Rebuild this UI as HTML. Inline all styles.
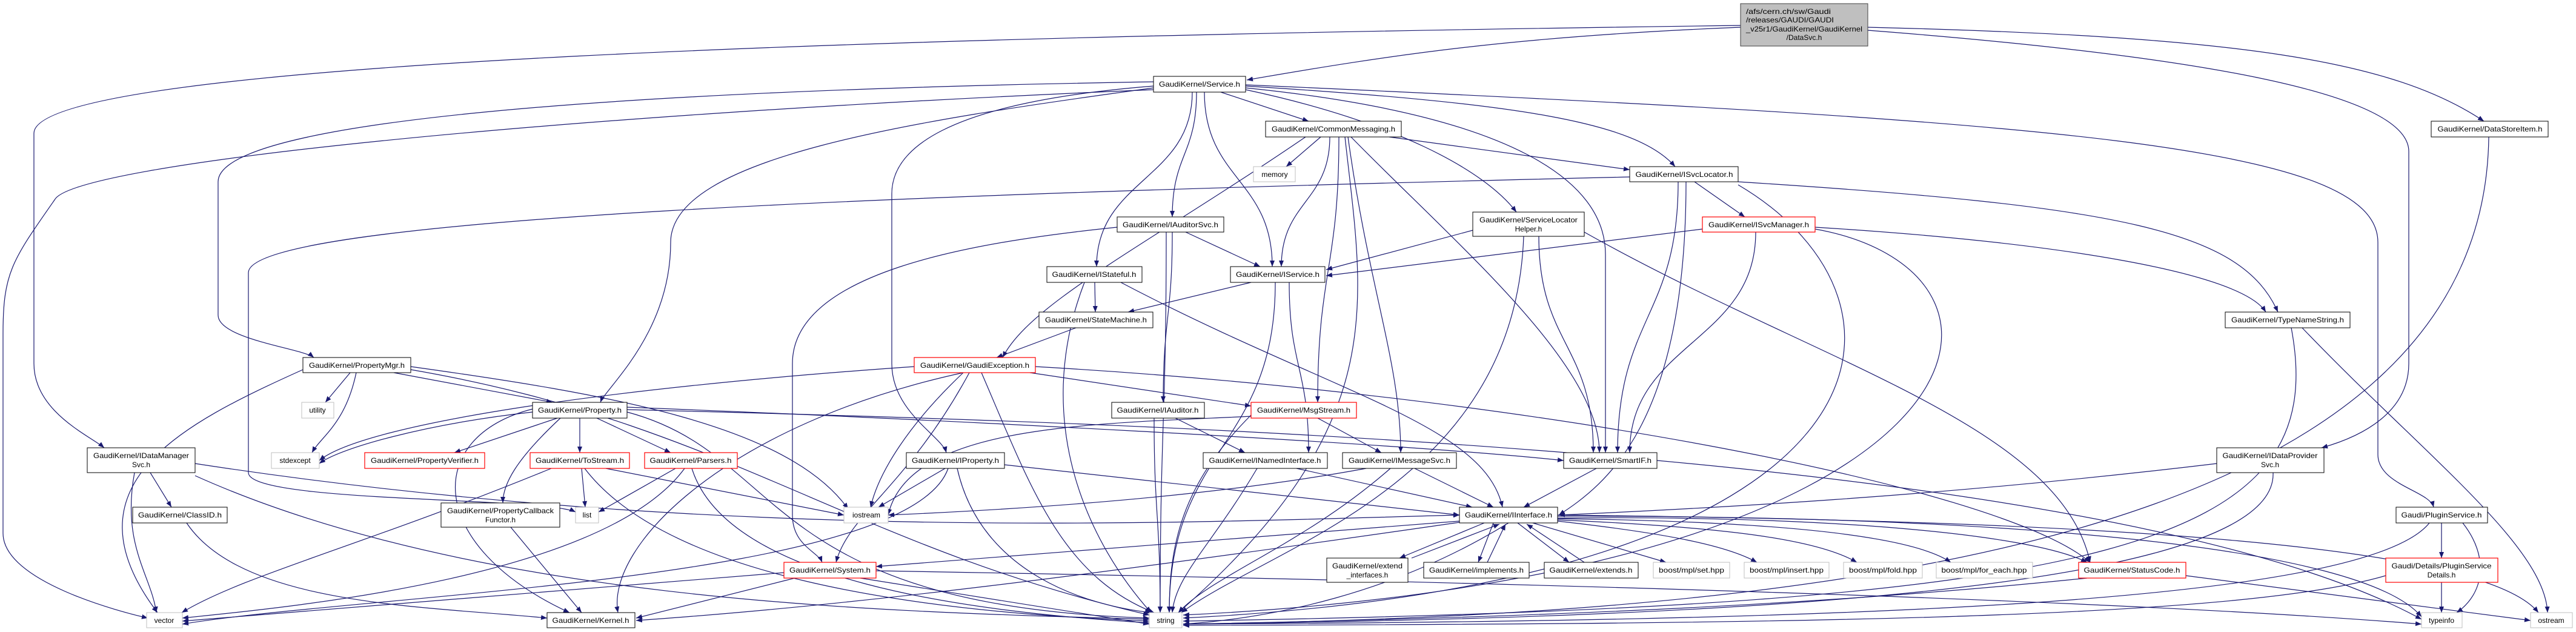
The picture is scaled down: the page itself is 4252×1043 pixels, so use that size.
<!DOCTYPE html>
<html><head><meta charset="utf-8"><style>
html,body{margin:0;padding:0;background:#fff;}
svg{display:block;}
text{font-family:"Liberation Sans",Arial,sans-serif;font-size:12px;fill:#000;}
.e{fill:none;stroke:#191970;stroke-width:1.2;marker-end:url(#a);}
.n{fill:#fff;stroke:#000;stroke-width:1;}
.g{fill:#fff;stroke:#bfbfbf;stroke-width:1;}
.r{fill:#fff;stroke:#ff0000;stroke-width:1.2;}
.sh{stroke:#404040;stroke-width:2;}
</style></head><body>
<svg width="4252" height="1043" viewBox="0 0 4252 1043" xmlns="http://www.w3.org/2000/svg">
<defs><marker id="a" markerUnits="userSpaceOnUse" markerWidth="10" markerHeight="8" refX="10" refY="4" orient="auto"><path d="M0,0 L10,4 L0,8 z" fill="#191970"/></marker></defs>
<g>
<!-- root edges -->
<path class="e" d="M2873,45 C2500,60 2300,90 2058,132"/>
<path class="e" d="M3083,45 C3700,60 3950,100 4100,200"/>
<path class="e" d="M3083,50 C3600,90 3976,150 3976,250 L3976,600 C3976,680 3900,720 3832,739"/>
<path class="e" d="M2873,42 C1500,60 56,100 56,220 L56,600 C56,680 150,720 172,739"/>
<!-- Service edges -->
<path class="e" d="M2015,152 L2160,200"/>
<path class="e" d="M1975,152 C1975,255 1935,255 1935,358"/>
<path class="e" d="M1968,152 C1968,296 1810,296 1810,440"/>
<path class="e" d="M1988,152 C1988,296 2100,296 2100,440"/>
<path class="e" d="M2056,148 C2300,200 2450,280 2503,350"/>
<path class="e" d="M2056,142 C2500,170 2700,200 2765,275"/>
<path class="e" d="M2056,145 C2500,190 2650,300 2650,420 L2650,747"/>
<path class="e" d="M2056,140 C3400,200 3925,240 3925,400 L3925,750 C3925,800 4010,810 4017,837"/>
<path class="e" d="M1904,135 C1000,150 360,200 360,300 L360,520 C360,560 500,575 518,590"/>
<path class="e" d="M1904,145 C1500,200 1107,260 1107,400 C1107,550 1000,640 991,664"/>
<path class="e" d="M1904,142 C1550,170 1472,250 1472,320 L1472,600 C1472,680 1555,720 1562,747"/>
<path class="e" d="M1904,148 C900,190 120,270 90,330 C20,430 5,450 5,550 L5,880 C5,960 200,1010 244,1020"/>
<!-- CommonMessaging -->
<path class="e" d="M2180,226 L2123,275"/>
<path class="e" d="M2293,226 L2690,280"/>
<path class="e" d="M2195,226 C2195,333 2115,333 2115,440"/>
<path class="e" d="M2155,226 C1900,400 1700,500 1655,590"/>
<path class="e" d="M2210,226 C2210,445 2175,445 2175,664"/>
<path class="e" d="M2225,226 C2260,480 2312,600 2312,747"/>
<path class="e" d="M2230,226 C2400,400 2640,600 2640,747"/>
<path class="e" d="M2220,226 C2250,500 2300,700 1945,1011"/>
<!-- IAuditorSvc -->
<path class="e" d="M1957,383 L2080,440"/>
<path class="e" d="M1935,383 C1935,523 1920,523 1920,664"/>
<path class="e" d="M1844,375 C1600,400 1308,450 1308,600 L1308,850 C1308,900 1350,910 1357,928"/>
<path class="e" d="M1925,383 C1925,700 1915,700 1915,1011"/>
<!-- IStateful -->
<path class="e" d="M1807,466 L1808,515"/>
<path class="e" d="M1850,466 C2200,650 2450,700 2480,837"/>
<path class="e" d="M1790,466 C1700,700 1800,900 1900,1011"/>
<!-- IService -->
<path class="e" d="M2065,466 L1862,515"/>
<path class="e" d="M2128,466 C2128,606 2160,606 2160,747"/>
<path class="e" d="M2105,466 C2105,738 1930,738 1930,1011"/>
<path class="e" d="M1776,541 L1645,590"/>
<!-- ServiceLocatorHelper -->
<path class="e" d="M2431,380 L2189,445"/>
<path class="e" d="M2540,390 C2540,568 2630,568 2630,747"/>
<path class="e" d="M2615,383 C3000,600 3400,700 3450,928"/>
<path class="e" d="M2515,390 C2500,800 2100,900 1950,1011"/>
<!-- ISvcLocator -->
<path class="e" d="M2797,300 L2880,358"/>
<path class="e" d="M2869,300 C3500,340 3700,380 3760,515"/>
<path class="e" d="M2770,300 C2770,523 2670,523 2670,747"/>
<path class="e" d="M2783,300 C2783,700 2650,800 2573,850"/>
<path class="e" d="M2869,305 C3200,500 3150,960 1953,1020"/>
<path class="e" d="M2690,292 C1500,320 410,360 410,450 L410,780 C410,830 900,820 950,845"/>
<!-- ISvcManager -->
<path class="e" d="M2810,378 L2189,455"/>
<path class="e" d="M2898,383 C2898,565 2690,565 2690,747"/>
<path class="e" d="M2996,375 C3400,400 3700,450 3740,515"/>
<path class="e" d="M2996,378 C3400,450 3300,950 1953,1015"/>
<path class="e" d="M3782,541 C3850,900 3500,1000 1953,1025"/>
<path class="e" d="M3800,541 C4000,750 4200,900 4205,1011"/>
<!-- PropertyMgr -->
<path class="e" d="M650,615 L912,664"/>
<path class="e" d="M578,615 L537,664"/>
<path class="e" d="M588,615 C570,700 530,720 515,747"/>
<path class="e" d="M500,610 C300,700 100,800 260,1011"/>
<path class="e" d="M678,605 C1000,650 1300,700 1400,840"/>
<path class="e" d="M678,610 C1200,700 1400,900 1897,1015"/>
<!-- GaudiException -->
<path class="e" d="M1700,615 L2065,670"/>
<path class="e" d="M1590,615 C1500,700 1450,780 1437,837"/>
<path class="e" d="M1600,615 C1500,800 1400,850 1380,928"/>
<path class="e" d="M1620,615 C1700,800 1750,950 1905,1011"/>
<path class="e" d="M1509,605 C1000,640 600,700 527,760"/>
<path class="e" d="M1709,605 C2500,650 3300,800 3450,928"/>
<path class="e" d="M1590,615 C1200,700 1000,900 1020,1011"/>
<!-- Property -->
<path class="e" d="M920,690 L750,747"/>
<path class="e" d="M957,690 L957,747"/>
<path class="e" d="M985,690 L1107,747"/>
<path class="e" d="M925,690 C850,760 830,800 830,830"/>
<path class="e" d="M879,680 C700,700 560,740 527,765"/>
<path class="e" d="M879,675 C700,720 700,900 940,1011"/>
<path class="e" d="M1035,680 C1300,750 1250,1000 1897,1020"/>
<path class="e" d="M1035,672 C1500,690 2300,730 2581,760"/>
<path class="e" d="M1035,676 C2000,700 3500,750 3997,1022"/>
<!-- IDataManagerSvc -->
<path class="e" d="M248,780 L283,837"/>
<path class="e" d="M222,780 C200,900 250,950 258,1011"/>
<path class="e" d="M322,785 C800,1000 1500,1010 1897,1022"/>
<path class="e" d="M322,765 C1200,900 2000,860 2409,850"/>
<!-- ToStream / Parsers -->
<path class="e" d="M960,773 L966,837"/>
<path class="e" d="M910,773 C600,900 400,950 300,1011"/>
<path class="e" d="M965,773 C1100,950 1500,1010 1897,1025"/>
<path class="e" d="M1000,773 L1393,850"/>
<path class="e" d="M1115,773 L988,845"/>
<path class="e" d="M1130,773 C1000,950 500,1000 301,1020"/>
<path class="e" d="M1142,773 C1200,960 1600,1010 1897,1028"/>
<path class="e" d="M308,863 C400,1000 700,1000 903,1020"/>
<path class="e" d="M843,870 L960,1011"/>
<!-- IProperty -->
<path class="e" d="M1658,767 L2409,850"/>
<path class="e" d="M1560,773 L1450,837"/>
<path class="e" d="M1580,773 C1620,950 1800,1000 1900,1011"/>
<path class="e" d="M1565,773 C1500,960 600,980 301,1030"/>
<!-- System -->
<path class="e" d="M1312,954 L1050,1020"/>
<path class="e" d="M1294,945 L301,1025"/>
<path class="e" d="M1420,954 L1897,1030"/>
<path class="e" d="M1446,942 C2500,960 3500,990 3997,1030"/>
<!-- IAuditor / MsgStream / INamed / IMessage / SmartIF -->
<path class="e" d="M1940,690 L2055,747"/>
<path class="e" d="M1905,690 C1905,850 1915,850 1915,1011"/>
<path class="e" d="M2175,690 L2280,747"/>
<path class="e" d="M2065,685 C1950,800 1930,900 1930,1011"/>
<path class="e" d="M2065,687 C1800,700 1500,700 1466,850"/>
<path class="e" d="M2140,773 L2430,837"/>
<path class="e" d="M2075,773 C2000,900 1940,950 1935,1011"/>
<path class="e" d="M2335,773 L2465,837"/>
<path class="e" d="M2255,773 C2000,820 1700,840 1466,850"/>
<path class="e" d="M2295,773 C2150,900 2000,950 1945,1011"/>
<path class="e" d="M2635,773 L2515,837"/>
<!-- IInterface -->
<path class="e" d="M2409,860 L1446,935"/>
<path class="e" d="M2409,862 C1800,950 1400,1000 1050,1024"/>
<path class="e" d="M2450,863 L2310,921"/>
<path class="e" d="M2330,921 L2475,865"/>
<path class="e" d="M2465,863 L2440,928"/>
<path class="e" d="M2455,928 L2485,865"/>
<path class="e" d="M2505,863 L2590,928"/>
<path class="e" d="M2615,928 L2520,865"/>
<path class="e" d="M2530,863 L2750,928"/>
<path class="e" d="M2571,860 C2750,880 2850,900 2900,928"/>
<path class="e" d="M2571,858 C2850,870 3000,890 3065,928"/>
<path class="e" d="M2571,856 C2900,860 3150,880 3220,928"/>
<path class="e" d="M2571,855 C3000,850 3350,880 3445,928"/>
<path class="e" d="M2490,863 C2300,980 2100,1020 1953,1030"/>
<path class="e" d="M2571,852 C3300,850 3900,900 3997,1018"/>
<path class="e" d="M2571,850 C3500,860 4100,900 4190,1011"/>
<path class="e" d="M3445,954 C3000,1000 2500,1020 1953,1030"/>
<path class="e" d="M3608,950 L4177,1024"/>
<path class="e" d="M3659,765 C3200,820 2800,840 2573,850"/>
<path class="e" d="M3752,780 C3760,980 2800,1020 1953,1030"/>
<path class="e" d="M4030,863 L4030,921"/>
<path class="e" d="M4065,863 C4110,920 4100,980 4055,1011"/>
<path class="e" d="M4010,863 C3900,1000 3000,1025 1953,1030"/>
<path class="e" d="M4030,961 L4030,1011"/>
<path class="e" d="M3938,950 C3700,1020 3000,1030 1953,1032"/>
<path class="e" d="M4108,226 C4100,900 3000,1015 1953,1030"/>
</g>
<!-- nodes -->
<g>
<rect x="2873" y="6" width="210" height="70" fill="#bfbfbf" stroke="#404040"/>
<text x="2882" y="23" textLength="140" lengthAdjust="spacingAndGlyphs">/afs/cern.ch/sw/Gaudi</text>
<text x="2882" y="37" textLength="145" lengthAdjust="spacingAndGlyphs">/releases/GAUDI/GAUDI</text>
<text x="2882" y="52" textLength="192" lengthAdjust="spacingAndGlyphs">_v25r1/GaudiKernel/GaudiKernel</text>
<text x="2978" y="66" text-anchor="middle">/DataSvc.h</text>

<rect class="n" x="1904" y="126" width="152" height="26"/><text x="1980" y="143" text-anchor="middle" textLength="134" lengthAdjust="spacingAndGlyphs">GaudiKernel/Service.h</text>
<rect class="n" x="2089" y="200" width="224" height="26"/><text x="2201" y="217" text-anchor="middle" textLength="204" lengthAdjust="spacingAndGlyphs">GaudiKernel/CommonMessaging.h</text>
<rect class="n" x="4013" y="200" width="193" height="26"/><text x="4110" y="217" text-anchor="middle" textLength="173" lengthAdjust="spacingAndGlyphs">GaudiKernel/DataStoreItem.h</text>
<rect class="g" x="2069" y="275" width="69" height="25"/><text x="2104" y="292" text-anchor="middle">memory</text>
<rect class="n" x="2690" y="275" width="179" height="25"/><text x="2780" y="292" text-anchor="middle" textLength="161" lengthAdjust="spacingAndGlyphs">GaudiKernel/ISvcLocator.h</text>
<rect class="n" x="1844" y="358" width="176" height="25"/><text x="1932" y="375" text-anchor="middle" textLength="158" lengthAdjust="spacingAndGlyphs">GaudiKernel/IAuditorSvc.h</text>
<rect class="n" x="2431" y="350" width="184" height="40"/><text x="2523" y="367" text-anchor="middle" textLength="162" lengthAdjust="spacingAndGlyphs">GaudiKernel/ServiceLocator</text><text x="2523" y="382" text-anchor="middle">Helper.h</text>
<rect class="r" x="2810" y="358" width="186" height="25"/><text x="2903" y="375" text-anchor="middle" textLength="166" lengthAdjust="spacingAndGlyphs">GaudiKernel/ISvcManager.h</text>
<rect class="n" x="1728" y="440" width="157" height="26"/><text x="1806" y="457" text-anchor="middle" textLength="139" lengthAdjust="spacingAndGlyphs">GaudiKernel/IStateful.h</text>
<rect class="n" x="2031" y="440" width="156" height="26"/><text x="2109" y="457" text-anchor="middle" textLength="138" lengthAdjust="spacingAndGlyphs">GaudiKernel/IService.h</text>
<rect class="n" x="1715" y="515" width="188" height="26"/><text x="1809" y="532" text-anchor="middle" textLength="168" lengthAdjust="spacingAndGlyphs">GaudiKernel/StateMachine.h</text>
<rect class="n" x="3673" y="515" width="206" height="26"/><text x="3776" y="532" text-anchor="middle" textLength="186" lengthAdjust="spacingAndGlyphs">GaudiKernel/TypeNameString.h</text>
<rect class="n" x="500" y="590" width="178" height="25"/><text x="589" y="607" text-anchor="middle" textLength="158" lengthAdjust="spacingAndGlyphs">GaudiKernel/PropertyMgr.h</text>
<rect class="r" x="1509" y="590" width="200" height="25"/><text x="1609" y="607" text-anchor="middle" textLength="180" lengthAdjust="spacingAndGlyphs">GaudiKernel/GaudiException.h</text>
<rect class="g" x="498" y="664" width="53" height="26"/><text x="524" y="681" text-anchor="middle">utility</text>
<rect class="n" x="879" y="664" width="156" height="26"/><text x="957" y="681" text-anchor="middle" textLength="138" lengthAdjust="spacingAndGlyphs">GaudiKernel/Property.h</text>
<rect class="n" x="1835" y="664" width="153" height="26"/><text x="1911" y="681" text-anchor="middle" textLength="135" lengthAdjust="spacingAndGlyphs">GaudiKernel/IAuditor.h</text>
<rect class="r" x="2065" y="664" width="174" height="26"/><text x="2152" y="681" text-anchor="middle" textLength="154" lengthAdjust="spacingAndGlyphs">GaudiKernel/MsgStream.h</text>
<rect class="n" x="144" y="739" width="178" height="41"/><text x="233" y="756" text-anchor="middle" textLength="158" lengthAdjust="spacingAndGlyphs">GaudiKernel/IDataManager</text><text x="233" y="771" text-anchor="middle">Svc.h</text>
<rect class="n" x="3659" y="739" width="177" height="41"/><text x="3747" y="756" text-anchor="middle" textLength="157" lengthAdjust="spacingAndGlyphs">GaudiKernel/IDataProvider</text><text x="3747" y="771" text-anchor="middle">Svc.h</text>
<rect class="g" x="448" y="747" width="79" height="26"/><text x="487" y="764" text-anchor="middle">stdexcept</text>
<rect class="r" x="602" y="747" width="198" height="26"/><text x="701" y="764" text-anchor="middle" textLength="178" lengthAdjust="spacingAndGlyphs">GaudiKernel/PropertyVerifier.h</text>
<rect class="r" x="875" y="747" width="164" height="26"/><text x="957" y="764" text-anchor="middle" textLength="146" lengthAdjust="spacingAndGlyphs">GaudiKernel/ToStream.h</text>
<rect class="r" x="1064" y="747" width="153" height="26"/><text x="1140" y="764" text-anchor="middle" textLength="135" lengthAdjust="spacingAndGlyphs">GaudiKernel/Parsers.h</text>
<rect class="n" x="1496" y="747" width="162" height="26"/><text x="1577" y="764" text-anchor="middle" textLength="144" lengthAdjust="spacingAndGlyphs">GaudiKernel/IProperty.h</text>
<rect class="n" x="1986" y="747" width="205" height="26"/><text x="2088" y="764" text-anchor="middle" textLength="185" lengthAdjust="spacingAndGlyphs">GaudiKernel/INamedInterface.h</text>
<rect class="n" x="2216" y="747" width="188" height="26"/><text x="2310" y="764" text-anchor="middle" textLength="168" lengthAdjust="spacingAndGlyphs">GaudiKernel/IMessageSvc.h</text>
<rect class="n" x="2581" y="747" width="154" height="26"/><text x="2658" y="764" text-anchor="middle" textLength="136" lengthAdjust="spacingAndGlyphs">GaudiKernel/SmartIF.h</text>
<rect class="n" x="219" y="837" width="156" height="26"/><text x="297" y="854" text-anchor="middle" textLength="138" lengthAdjust="spacingAndGlyphs">GaudiKernel/ClassID.h</text>
<rect class="n" x="728" y="830" width="196" height="40"/><text x="826" y="847" text-anchor="middle" textLength="176" lengthAdjust="spacingAndGlyphs">GaudiKernel/PropertyCallback</text><text x="826" y="862" text-anchor="middle">Functor.h</text>
<rect class="g" x="950" y="837" width="38" height="26"/><text x="969" y="854" text-anchor="middle">list</text>
<rect class="g" x="1393" y="837" width="73" height="26"/><text x="1430" y="854" text-anchor="middle">iostream</text>
<rect class="n" x="2409" y="837" width="162" height="26"/><text x="2490" y="854" text-anchor="middle" textLength="144" lengthAdjust="spacingAndGlyphs">GaudiKernel/IInterface.h</text>
<rect class="n" x="3955" y="837" width="151" height="26"/><text x="4030" y="854" text-anchor="middle" textLength="133" lengthAdjust="spacingAndGlyphs">Gaudi/PluginService.h</text>
<rect class="r" x="1294" y="928" width="152" height="26"/><text x="1370" y="945" text-anchor="middle" textLength="134" lengthAdjust="spacingAndGlyphs">GaudiKernel/System.h</text>
<rect class="n" x="2190" y="921" width="134" height="40"/><text x="2257" y="938" text-anchor="middle" textLength="116" lengthAdjust="spacingAndGlyphs">GaudiKernel/extend</text><text x="2257" y="953" text-anchor="middle">_interfaces.h</text>
<rect class="n" x="2350" y="928" width="174" height="26"/><text x="2437" y="945" text-anchor="middle" textLength="156" lengthAdjust="spacingAndGlyphs">GaudiKernel/implements.h</text>
<rect class="n" x="2549" y="928" width="155" height="26"/><text x="2626" y="945" text-anchor="middle" textLength="137" lengthAdjust="spacingAndGlyphs">GaudiKernel/extends.h</text>
<rect class="g" x="2729" y="928" width="126" height="26"/><text x="2792" y="945" text-anchor="middle" textLength="108" lengthAdjust="spacingAndGlyphs">boost/mpl/set.hpp</text>
<rect class="g" x="2879" y="928" width="140" height="26"/><text x="2949" y="945" text-anchor="middle" textLength="122" lengthAdjust="spacingAndGlyphs">boost/mpl/insert.hpp</text>
<rect class="g" x="3043" y="928" width="130" height="26"/><text x="3108" y="945" text-anchor="middle" textLength="112" lengthAdjust="spacingAndGlyphs">boost/mpl/fold.hpp</text>
<rect class="g" x="3196" y="928" width="159" height="26"/><text x="3275" y="945" text-anchor="middle" textLength="141" lengthAdjust="spacingAndGlyphs">boost/mpl/for_each.hpp</text>
<rect class="r" x="3431" y="928" width="177" height="26"/><text x="3519" y="945" text-anchor="middle" textLength="159" lengthAdjust="spacingAndGlyphs">GaudiKernel/StatusCode.h</text>
<rect class="r" x="3938" y="921" width="185" height="40"/><text x="4030" y="938" text-anchor="middle" textLength="165" lengthAdjust="spacingAndGlyphs">Gaudi/Details/PluginService</text><text x="4030" y="953" text-anchor="middle">Details.h</text>
<rect class="g" x="242" y="1011" width="59" height="25"/><text x="271" y="1028" text-anchor="middle">vector</text>
<rect class="n" x="903" y="1011" width="145" height="25"/><text x="975" y="1028" text-anchor="middle" textLength="127" lengthAdjust="spacingAndGlyphs">GaudiKernel/Kernel.h</text>
<rect class="g" x="1897" y="1011" width="54" height="25"/><text x="1924" y="1028" text-anchor="middle">string</text>
<rect class="g" x="3997" y="1011" width="67" height="25"/><text x="4030" y="1028" text-anchor="middle">typeinfo</text>
<rect class="g" x="4177" y="1011" width="69" height="25"/><text x="4211" y="1028" text-anchor="middle">ostream</text>
</g>
</svg>
</body></html>
